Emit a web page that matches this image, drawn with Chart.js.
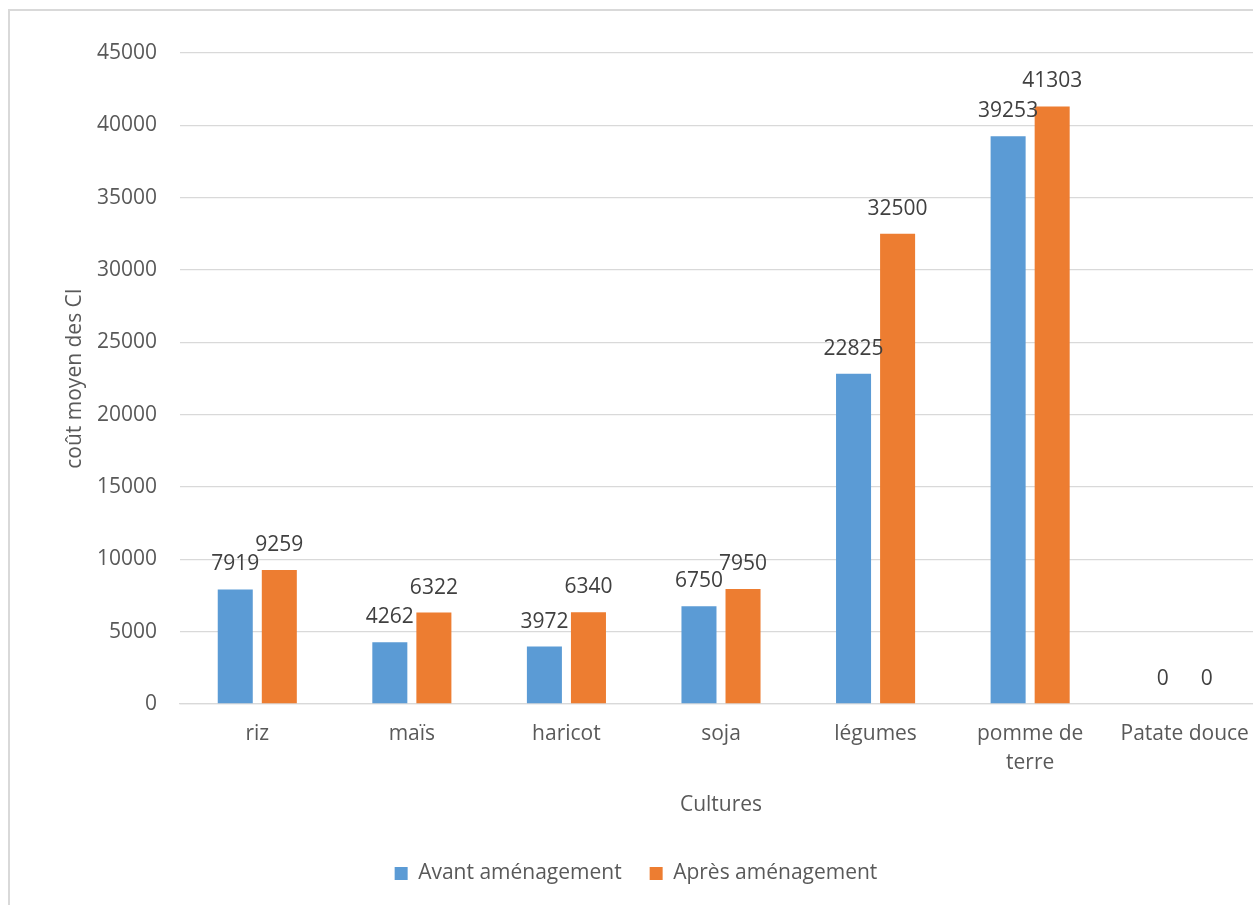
<!DOCTYPE html>
<html>
<head>
<meta charset="utf-8">
<script src="https://cdn.jsdelivr.net/npm/chart.js@4/dist/chart.umd.min.js"></script>
<style>
  html, body { margin: 0; padding: 0; background: #fff; overflow: hidden; }
  #frame {
    position: absolute; left: 8px; top: 9px;
    width: 1280px; height: 920px;
    border: 2px solid #d9d9d9;
  }
  #chart { position: absolute; left: 0; top: 0; }
</style>
</head>
<body>
<div id="frame"><canvas id="chart" width="1280" height="883"></canvas></div>
<script>
// chart data
const cultures = ['riz', 'maïs', 'haricot', 'soja', 'légumes', ['pomme de', 'terre'], 'Patate douce'];
const avant = [7919, 4262, 3972, 6750, 22825, 39253, 0];
const apres = [9259, 6322, 6340, 7950, 32500, 41303, 0];
const yTicks = [0, 5000, 10000, 15000, 20000, 25000, 30000, 35000, 40000, 45000];

const FONT = "'Open Sans', 'Noto Sans', sans-serif";

// draws the value above each bar
const barLabels = {
  id: 'barLabels',
  afterDatasetsDraw(chart) {
    const c = chart.ctx;
    c.save();
    c.font = '21px ' + FONT;
    c.fillStyle = '#404040';
    c.textAlign = 'center';
    c.textBaseline = 'middle';
    chart.data.datasets.forEach((ds, i) => {
      chart.getDatasetMeta(i).data.forEach((bar, j) => {
        c.fillText(String(ds.data[j]), bar.x, bar.y - 25);
      });
    });
    c.restore();
  }
};

new Chart(document.getElementById('chart'), {
  type: 'bar',
  data: {
    labels: cultures,
    datasets: [
      { label: 'Avant aménagement', data: avant, backgroundColor: '#5b9bd5' },
      { label: 'Après aménagement', data: apres, backgroundColor: '#ed7d31' }
    ]
  },
  plugins: [barLabels],
  options: {
    responsive: false,
    animation: false,
    devicePixelRatio: 1,
    categoryPercentage: 0.57,
    barPercentage: 0.795,
    layout: { padding: { top: 42, right: 28, left: 0, bottom: 0 } },
    plugins: {
      tooltip: { enabled: false },
      legend: {
        position: 'bottom',
        labels: {
          color: '#595959',
          font: { family: FONT, size: 21 },
          boxWidth: 13, boxHeight: 13,
          padding: 28
        }
      }
    },
    scales: {
      y: {
        min: 0, max: 45000,
        afterBuildTicks: s => { s.ticks = yTicks.map(v => ({ value: v })); },
        afterFit: s => { s.width = 170; },
        border: { display: false },
        grid: { color: '#d9d9d9', lineWidth: 1.3, drawTicks: false },
        ticks: {
          color: '#595959', font: { family: FONT, size: 21 }, padding: 23,
          callback: v => String(v)
        },
        title: {
          display: true, text: 'coût moyen des CI', color: '#595959',
          font: { family: FONT, size: 21 }, padding: { top: 52, bottom: 0 }
        }
      },
      x: {
        grid: { display: false, drawTicks: false },
        border: { color: '#d9d9d9', width: 1.3 },
        ticks: {
          color: '#595959', font: { family: FONT, size: 21, lineHeight: 1.4 },
          padding: 15, maxRotation: 0, autoSkip: false
        },
        title: {
          display: true, text: 'Cultures', color: '#595959',
          font: { family: FONT, size: 21 }, padding: { top: 0, bottom: 17 }
        }
      }
    }
  }
});
</script>
</body>
</html>
